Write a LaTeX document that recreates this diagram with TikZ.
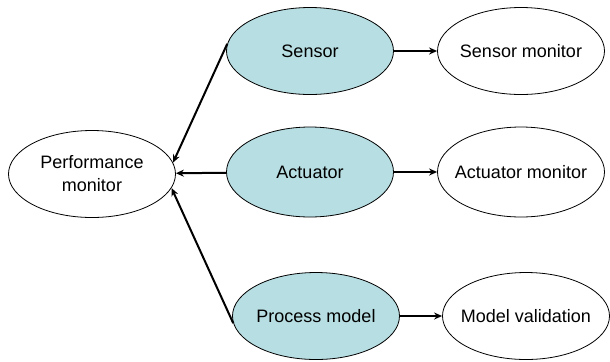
\documentclass[tikz,border=0pt]{standalone}
\usepackage{fontspec}
\setmainfont{Liberation Sans}
\usepackage{tikz}
\usetikzlibrary{arrows.meta,shapes.geometric}
\definecolor{boxcyan}{RGB}{183,222,226}

\begin{document}
\begin{tikzpicture}
	[x=.5pt, y=.5pt, font=\fontsize{9}{11.5}\selectfont,
	node_style/.style={ellipse, draw=black, line width=.4pt, inner xsep=-7pt, inner ysep=0pt,
		minimum width=83.5pt, minimum height=43.5pt, align=center},
	unit_style/.style={node_style, fill=boxcyan},
	edge_style/.style={draw=black, line width=1pt, -{Stealth[length=4pt,width=3.5pt]}}]
	\useasboundingbox (0,0) rectangle (610,361);
	\node[node_style] (perf) at (92,187) {Performance\\monitor};
	\node[unit_style] (sensor) at (310,310) {Sensor};
	\node[unit_style, minimum height=45pt] (actuator) at (310,189) {Actuator};
	\node[unit_style] (process) at (316,45) {Process model};
	\node[node_style] (senmon) at (521,310) {Sensor monitor};
	\node[node_style, minimum height=45pt] (actmon) at (521,189) {Actuator monitor};
	\node[node_style] (modval) at (526,45) {Model validation};

	\draw[edge_style] (sensor.175) -- (perf.8);
	\draw[edge_style] (actuator) -- (perf);
	\draw[edge_style] (process.185) -- (perf.-10);

	\draw[edge_style] (sensor) -- (senmon);
	\draw[edge_style] (actuator) -- (actmon);
	\draw[edge_style] (process) -- (modval);
\end{tikzpicture}
\end{document}
